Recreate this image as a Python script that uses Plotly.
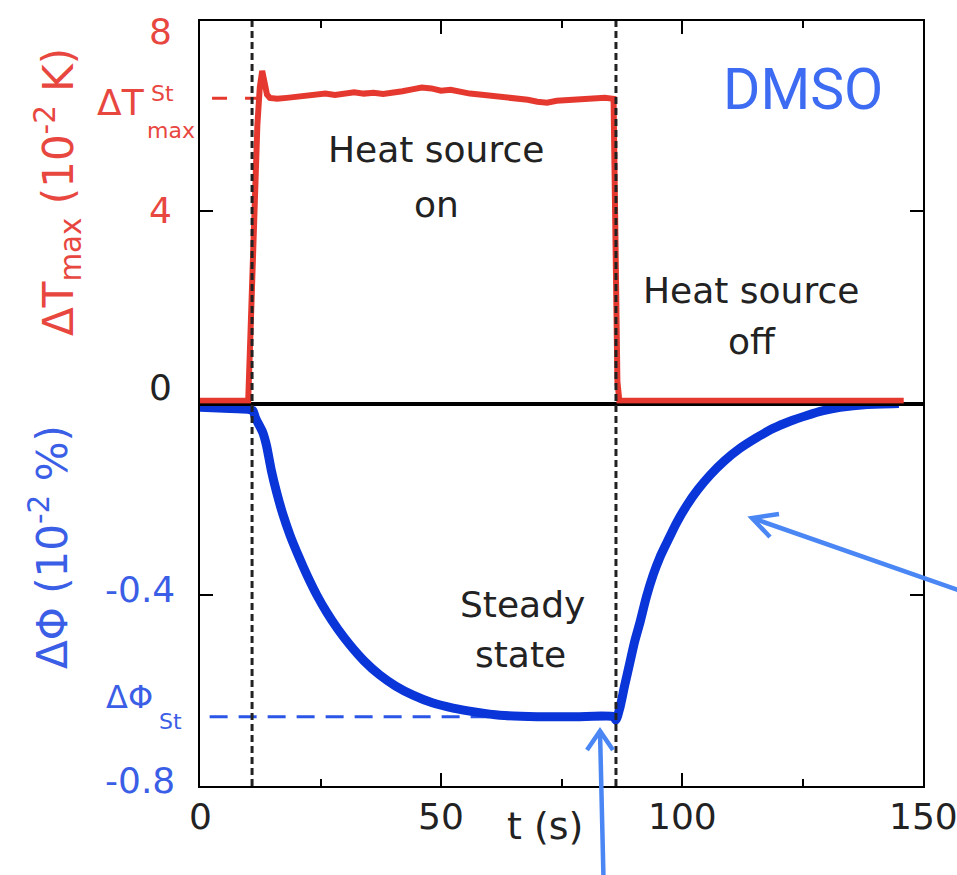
import plotly.graph_objects as go

# ---- data -------------------------------------------------------------
# Heat source temperature rise (10^-2 K) vs time (s)
t_heat = [0, 10.0, 10.4, 10.9, 11.4, 11.9, 12.4, 12.9, 13.4, 13.9, 14.5, 16, 18,
          20, 22, 24, 26, 28, 30, 32, 34, 36, 38, 40, 42, 44, 46, 48, 50, 52,
          54, 56, 58, 60, 62, 64, 66, 68, 70, 72, 74, 76, 78, 80, 82, 84, 85.8,
          86.2, 86.6, 87.0, 146]
dT_max = [0, 0, 1.2, 3.0, 4.6, 5.8, 6.6, 6.95, 6.7, 6.45, 6.38, 6.36, 6.38,
          6.40, 6.42, 6.44, 6.47, 6.44, 6.48, 6.50, 6.47, 6.49, 6.46, 6.48, 6.52,
          6.56, 6.60, 6.58, 6.53, 6.55, 6.50, 6.47, 6.45, 6.43, 6.41, 6.40, 6.38,
          6.34, 6.30, 6.28, 6.32, 6.33, 6.36, 6.35, 6.37, 6.38, 6.36, 3.5, 0.4,
          0, 0]

# Relative phase change (10^-2 %) vs time (s)
t_phase = [0, 5, 10, 11, 11.5, 12.0, 13.0, 13.8, 14.8, 15.9, 17.2, 18.7, 20.4,
           22.2, 24.2, 26.3, 28.6, 31.1, 34.0, 37.3, 40.6, 44.2, 48.2, 52.5,
           57.0, 62.2, 70, 78, 85.8, 86.3, 87.1, 88.1, 89.2, 90.2, 91.3, 92.6,
           94.0, 95.4, 96.9, 98.9, 101.0, 103.3, 105.8, 108.8, 112.0, 115.4,
           118.9, 122.4, 125.9, 129.3, 132.8, 138.4, 145]
dPhi = [-0.008, -0.010, -0.012, -0.015, -0.030, -0.040, -0.060, -0.088, -0.140,
        -0.186, -0.232, -0.276, -0.318, -0.359, -0.400, -0.437, -0.472, -0.505,
        -0.538, -0.568, -0.591, -0.610, -0.626, -0.637, -0.645, -0.652, -0.655,
        -0.655, -0.655, -0.662, -0.637, -0.590, -0.541, -0.497, -0.457, -0.405,
        -0.359, -0.322, -0.290, -0.249, -0.213, -0.180, -0.150, -0.120, -0.094,
        -0.072, -0.052, -0.037, -0.025, -0.015, -0.008, -0.002, 0.0]

dT_St = 6.37          # steady-state temperature rise
dPhi_St = -0.655      # steady-state phase change
t_on, t_off = 10.8, 86.3

x_ticks = [0, 50, 100, 150]
x_tick_text = ["0", "50", "100", "150"]
x_minor = [25, 75, 125]
dT_ticks = [8, 4, 0]
dT_tick_text = ["8", "4", "0"]
dPhi_ticks = [-0.4, -0.8]
dPhi_tick_text = ["-0.4", "-0.8"]

# ---- geometry helpers -------------------------------------------------
W, H = 957, 875
ML, MR, MT, MB = 200, 34, 21, 89
PW, PH = W - ML - MR, H - MT - MB


def px(x):
    return (x - ML) / PW


def py(y):
    return (H - MB - y) / PH


RED = "#e5392f"
RED_TXT = "#e8473f"
BLUE = "#0a35d8"
BLUE_TXT = "#3b5ee6"
ARROW = "#4a86f4"
INK = "#222222"
FONT = "DejaVu Sans"

fig = go.Figure()

# steady-state guide lines
fig.add_trace(go.Scatter(x=[2.5, t_on + 1], y=[dT_St, dT_St], xaxis="x2", yaxis="y2",
                         mode="lines", line=dict(color=RED, width=3, dash="15px,18px"),
                         hoverinfo="skip"))
fig.add_trace(go.Scatter(x=[2.0, 60], y=[dPhi_St, dPhi_St], xaxis="x", yaxis="y",
                         mode="lines", line=dict(color="#2b55e6", width=3, dash="18px,11px"),
                         hoverinfo="skip"))

# measured curves
fig.add_trace(go.Scatter(x=t_heat, y=dT_max, xaxis="x2", yaxis="y2", mode="lines",
                         line=dict(color=RED, width=6)))
fig.add_trace(go.Scatter(x=t_phase, y=dPhi, xaxis="x", yaxis="y", mode="lines",
                         line=dict(color=BLUE, width=9, shape="spline", smoothing=0.6)))

axis_common = dict(showline=True, linecolor="black", linewidth=2, ticks="inside",
                   tickcolor="black", tickwidth=2, ticklen=13, showgrid=False,
                   zeroline=False)

fig.update_layout(
    width=W, height=H, autosize=False,
    margin=dict(l=ML, r=MR, t=MT, b=MB, pad=0),
    paper_bgcolor="white", plot_bgcolor="white",
    showlegend=False,
    xaxis=dict(domain=[0, 1], anchor="y", range=[0, 150], mirror=True,
               tickvals=x_ticks, showticklabels=False,
               minor=dict(tickvals=x_minor, ticks="inside", ticklen=7,
                          tickwidth=2, tickcolor="black"),
               **axis_common),
    xaxis2=dict(domain=[0, 1], anchor="y2", range=[0, 150], matches="x",
                side="top", mirror=True, tickvals=x_ticks, showticklabels=False,
                minor=dict(tickvals=x_minor, ticks="inside", ticklen=7,
                           tickwidth=2, tickcolor="black"),
                **axis_common),
    yaxis=dict(domain=[0, 0.5], anchor="x", range=[-0.8, 0], mirror="ticks",
               tickvals=[-0.4], showticklabels=False, **axis_common),
    yaxis2=dict(domain=[0.5, 1], anchor="x2", range=[-0.06, 8], mirror="ticks",
                tickvals=[4], showticklabels=False, **axis_common),
)

# heat source switching times
for tv in (t_on, t_off):
    fig.add_shape(type="line", xref="x", yref="paper", x0=tv, x1=tv, y0=0, y1=1,
                  line=dict(color=INK, width=3, dash="7px,4px"), layer="above")

ann = []


def text(x, y, s, size, color=INK, **kw):
    d = dict(xref="paper", yref="paper", x=px(x), y=py(y), text=s, showarrow=False,
             font=dict(family=FONT, size=size, color=color), xanchor="center",
             yanchor="middle")
    d.update(kw)
    ann.append(d)


# x tick labels
for v, s in zip(x_ticks, x_tick_text):
    ann.append(dict(xref="x", yref="paper", x=v, y=0, text=s, showarrow=False,
                    xanchor="center", yanchor="middle", yshift=-30,
                    font=dict(family=FONT, size=36, color=INK)))

# y tick labels (pixel nudges keep the end labels inside the frame corners)
dT_shift = {8: -10, 4: 0, 0: 13}
for v, s in zip(dT_ticks, dT_tick_text):
    ann.append(dict(xref="paper", yref="y2", x=0, y=v, text=s, showarrow=False,
                    xanchor="right", yanchor="middle", xshift=-26, yshift=dT_shift[v],
                    font=dict(family=FONT, size=36,
                              color=INK if v == 0 else RED_TXT)))
phi_shift = {-0.4: 5, -0.8: 6}
for v, s in zip(dPhi_ticks, dPhi_tick_text):
    ann.append(dict(xref="paper", yref="y", x=0, y=v, text=s, showarrow=False,
                    xanchor="right", yanchor="middle", xshift=-23, yshift=phi_shift[v],
                    font=dict(family=FONT, size=36, color=BLUE_TXT)))

# axis titles
text(58, 192, "ΔT<sub>max</sub> (10<sup>-2</sup> K)", 42, RED_TXT, textangle=-90)
text(49, 547, "ΔΦ (10<sup>-2</sup> %)", 42, BLUE_TXT, textangle=-90)
text(545, 826, "t (s)", 38)

# steady-state labels
text(147, 103, "ΔT", 36, RED_TXT, xanchor="right")
text(149, 93, "St", 22, RED_TXT, xanchor="left")
text(145, 130, "max", 22, RED_TXT, xanchor="left")
text(155, 697, "ΔΦ", 32, BLUE_TXT, xanchor="right")
text(157, 721, "St", 22, BLUE_TXT, xanchor="left")

# region notes
text(436, 150, "Heat source", 36)
text(436, 204, "on", 36)
text(751, 290, "Heat source", 36)
text(752, 342, "off", 36)
text(522, 604, "Steady", 36)
text(520, 654, "state", 36)
text(803, 89, "DMSO", 57, "#3d6cf3", font=dict(family="Roboto", size=57, color="#3d6cf3"))
text(740, 888, "S", 26, INK, font=dict(family="Liberation Serif", size=26, color=INK))

fig.update_layout(annotations=ann)


# pointer arrows (open heads)
def arrow(tail, tip, arm1, arm2):
    fig.add_shape(type="line", xref="paper", yref="paper",
                  x0=px(tail[0]), y0=py(tail[1]), x1=px(tip[0]), y1=py(tip[1]),
                  line=dict(color=ARROW, width=4.5), layer="above")
    path = (f"M {px(arm1[0])},{py(arm1[1])} L {px(tip[0])},{py(tip[1])} "
            f"L {px(arm2[0])},{py(arm2[1])}")
    fig.add_shape(type="path", xref="paper", yref="paper", path=path,
                  line=dict(color=ARROW, width=4.5), layer="above")


arrow((604, 900), (600, 731), (587, 750), (613, 750))
arrow((975, 596), (752, 518), (779, 514), (770, 537))

fig.write_html("out.html")
